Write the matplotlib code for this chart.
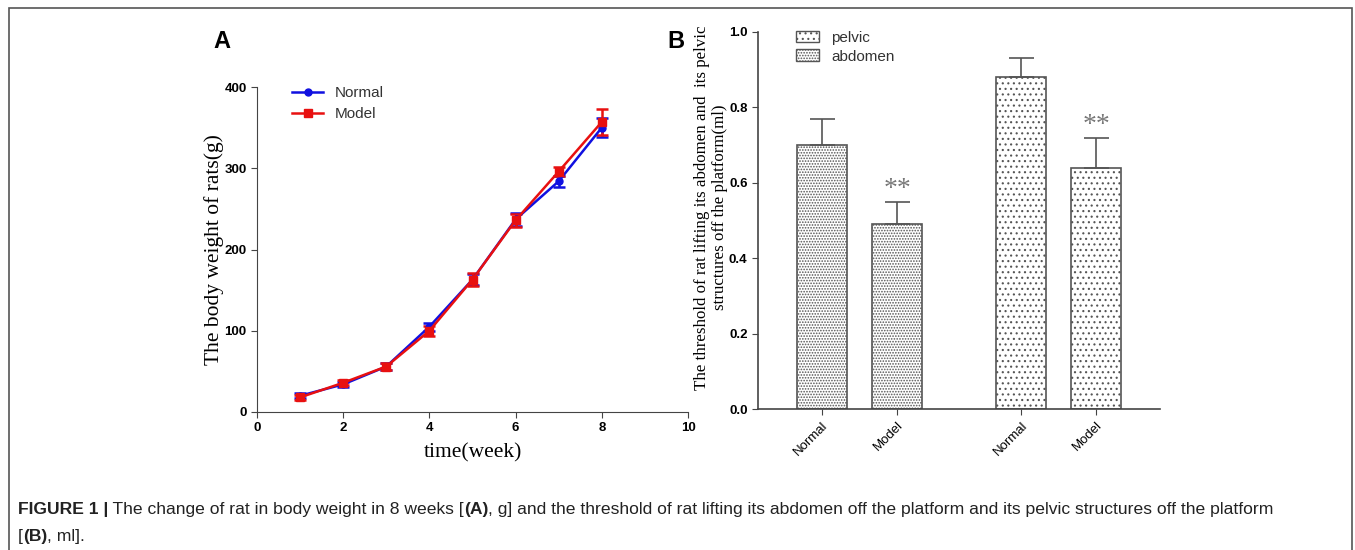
import matplotlib
matplotlib.use("Agg")
import matplotlib.pyplot as plt
from matplotlib.patches import Rectangle, Patch
from matplotlib.lines import Line2D

# panel A data
weeks = [1, 2, 3, 4, 5, 6, 7, 8]
normal_w = [20, 34, 56, 105, 163, 237, 284, 350]
normal_err = [3, 3, 4, 5, 7, 8, 7, 12]
model_w = [18, 36, 56, 100, 163, 236, 296, 357]
model_err = [3, 3, 4, 6, 8, 8, 6, 16]

# panel B data
groups = ["Normal", "Model", "Normal", "Model"]
bar_vals = [0.70, 0.49, 0.88, 0.64]
bar_err = [0.07, 0.06, 0.05, 0.08]
bar_kind = ["abdomen", "abdomen", "pelvic", "pelvic"]
stars = ["", "**", "", "**"]

caption_1 = [("FIGURE 1 |", "bold"),
             (" The change of rat in body weight in 8 weeks [", "normal"),
             ("(A)", "bold"),
             (", g] and the threshold of rat lifting its abdomen off the platform and its pelvic structures off the platform", "normal")]
caption_2 = [("[", "normal"), ("(B)", "bold"), (", ml].", "normal")]

plt.rcParams["hatch.linewidth"] = 0.8
fig = plt.figure(figsize=(13.55, 5.5), dpi=100)
W, H = 1355, 550

# outer frame
fig.add_artist(Rectangle((9 / W, -0.05), (1352 - 9) / W, (550 - 8) / H + 0.05,
                         transform=fig.transFigure, fill=False, ec="#555555", lw=1.2))

tick_font = dict(family="Liberation Sans", size=9.5, weight="bold")
serif = "Liberation Serif"
blue, red = "#1010e0", "#e81010"

# ---------- panel A ----------
axA = fig.add_axes([257 / W, 1 - 412 / H, 431 / W, 325 / H])
axA.errorbar(weeks, normal_w, yerr=normal_err, color=blue, marker="o", ms=5,
             lw=1.8, capsize=4, elinewidth=1.8, capthick=1.8)
axA.errorbar(weeks, model_w, yerr=model_err, color=red, marker="s", ms=6,
             lw=1.8, capsize=4, elinewidth=1.8, capthick=1.8)
axA.set_xlim(0, 10)
axA.set_ylim(0, 400)
axA.set_xticks([0, 2, 4, 6, 8, 10])
axA.set_yticks([0, 100, 200, 300, 400])
for s in ["top", "right"]:
    axA.spines[s].set_visible(False)
for s in ["left", "bottom"]:
    axA.spines[s].set_color("#444444")
axA.tick_params(direction="out", length=4, color="#444444")
for lab in axA.get_xticklabels() + axA.get_yticklabels():
    lab.set_fontproperties(tick_font)
axA.set_xlabel("time(week)", family=serif, fontsize=15.5, labelpad=6)
axA.set_ylabel("The body weight of rats(g)", family=serif, fontsize=15.5, va="center")
axA.yaxis.set_label_coords(-0.1, 0.5)
hA = [Line2D([], [], color=blue, marker="o", ms=5, lw=1.8),
      Line2D([], [], color=red, marker="s", ms=6, lw=1.8)]
legA = axA.legend(hA, ["Normal", "Model"], loc="upper left",
                  bbox_to_anchor=(0.05, 1.045), frameon=False,
                  prop=dict(family="Liberation Sans", size=11), handlelength=2,
                  labelspacing=0.45)
for t in legA.get_texts():
    t.set_color("#333333")
fig.text(222 / W, 1 - 42 / H, "A", family="Liberation Sans", weight="bold",
         fontsize=17, ha="center", va="center")

# ---------- panel B ----------
axB = fig.add_axes([758 / W, 1 - 409 / H, 402 / W, 377 / H])
xpos = [0, 1, 2.65, 3.65]
for x, v, e, k, st in zip(xpos, bar_vals, bar_err, bar_kind, stars):
    hatch = "......" if k == "abdomen" else "..."
    axB.bar(x, v, width=0.67, color="white", edgecolor="#555555", hatch=hatch, lw=1.2)
    axB.errorbar(x, v, yerr=[[0], [e]], color="#555555", capsize=9, lw=1.2,
                 capthick=1.2)
    if st:
        axB.text(x, v + e - 0.002, st, ha="center", va="bottom", family=serif,
                 fontsize=20, color="#777777")
axB.set_xlim(-0.853, 4.5)
axB.set_ylim(0, 1.0)
axB.set_xticks(xpos)
axB.set_xticklabels(groups, rotation=45, ha="right", rotation_mode="anchor",
                    family="Liberation Sans", fontsize=9.5)
axB.set_yticks([0, 0.2, 0.4, 0.6, 0.8, 1.0])
axB.set_yticklabels(["0.0", "0.2", "0.4", "0.6", "0.8", "1.0"])
for lab in axB.get_yticklabels():
    lab.set_fontproperties(tick_font)
for s in ["top", "right"]:
    axB.spines[s].set_visible(False)
for s in ["left", "bottom"]:
    axB.spines[s].set_color("#444444")
    axB.spines[s].set_linewidth(1.2)
axB.tick_params(direction="out", length=4, color="#444444")
axB.set_ylabel("The threshold of rat lifting its abdomen and  its pelvic\nstructures off the platform(ml)",
               family=serif, fontsize=12.2, linespacing=1.2, va="center")
axB.yaxis.set_label_coords(-0.117, 0.535)
handles = [Patch(facecolor="white", edgecolor="#555555", hatch="..."),
           Patch(facecolor="white", edgecolor="#555555", hatch="......")]
legB = axB.legend(handles, ["pelvic", "abdomen"], loc="upper left",
                  bbox_to_anchor=(0.06, 1.04), frameon=False,
                  prop=dict(family="Liberation Sans", size=11),
                  handlelength=1.5, handleheight=0.8, labelspacing=0.3)
for t in legB.get_texts():
    t.set_color("#333333")
fig.text(676 / W, 1 - 42 / H, "B", family="Liberation Sans", weight="bold",
         fontsize=17, ha="center", va="center")

# ---------- caption ----------
def write_line(parts, x0, y, size):
    fig.canvas.draw()
    r = fig.canvas.get_renderer()
    x = x0
    for txt, wt in parts:
        t = fig.text(x / W, 1 - y / H, txt, fontsize=size, weight=wt,
                     family="Liberation Sans", color="#222222", va="baseline")
        bb = t.get_window_extent(renderer=r)
        x += bb.width

write_line(caption_1, 18, 514, 12.6)
write_line(caption_2, 18, 541, 12.6)

fig.savefig("out.png", dpi=100)
